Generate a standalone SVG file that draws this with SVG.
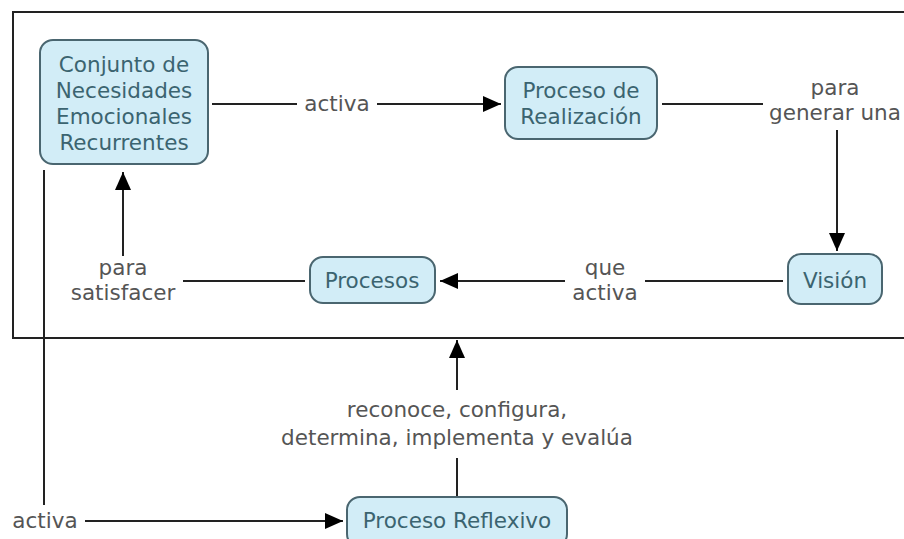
<svg xmlns="http://www.w3.org/2000/svg" width="904" height="539" viewBox="0 0 904 539">
<defs>
<marker id="ah" markerWidth="18" markerHeight="16" refX="18" refY="8" orient="auto" markerUnits="userSpaceOnUse" viewBox="0 0 18 16">
<path d="M0,0 L18,8 L0,16 z" fill="#000"/>
</marker>
</defs>
<style>
.node rect{fill:#d2edf7;stroke:#4a6670;stroke-width:2}
.node text{font-family:"DejaVu Sans",Verdana,sans-serif;font-size:21.5px;fill:#3b6470;text-anchor:middle}
.lbl{font-family:"DejaVu Sans",Verdana,sans-serif;font-size:21.5px;fill:#555;text-anchor:middle}
.ln{stroke:#222;stroke-width:2;fill:none}
.ar{marker-end:url(#ah)}
</style>
<rect x="13" y="12" width="900" height="326" fill="none" stroke="#222" stroke-width="2"/>
<g id="connectors">
<path class="ln" d="M212,104 H297"/>
<text class="lbl" x="337" y="111">activa</text>
<path class="ln ar" d="M377,104 H501"/>
<path class="ln" d="M662,104 H763"/>
<text class="lbl" x="835" y="95">para</text>
<text class="lbl" x="835" y="120">generar una</text>
<path class="ln ar" d="M837,130 V251"/>
<path class="ln" d="M783,281 H645"/>
<text class="lbl" x="605" y="275">que</text>
<text class="lbl" x="605" y="300">activa</text>
<path class="ln ar" d="M565,281 H440"/>
<path class="ln" d="M305,281 H183"/>
<text class="lbl" x="123" y="275">para</text>
<text class="lbl" x="123" y="300">satisfacer</text>
<path class="ln ar" d="M123,256 V172"/>
<path class="ln" d="M44,170 V505"/>
<text class="lbl" x="45" y="528">activa</text>
<path class="ln ar" d="M85,521 H343"/>
<path class="ln" d="M457,497 V458"/>
<text class="lbl" x="457" y="417">reconoce, configura,</text>
<text class="lbl" x="457" y="445">determina, implementa y evalúa</text>
<path class="ln ar" d="M457,390 V340"/>
</g>
<g id="n1" class="node">
<rect x="40" y="40" width="168" height="124" rx="13"/>
<text x="124" y="72">Conjunto de</text>
<text x="124" y="98">Necesidades</text>
<text x="124" y="124">Emocionales</text>
<text x="124" y="150">Recurrentes</text>
</g>
<g id="n2" class="node">
<rect x="505" y="67" width="152" height="72" rx="13"/>
<text x="581" y="98">Proceso de</text>
<text x="581" y="124">Realización</text>
</g>
<g id="n3" class="node">
<rect x="788" y="254" width="94" height="50" rx="13"/>
<text x="835" y="288">Visión</text>
</g>
<g id="n4" class="node">
<rect x="310" y="257" width="125" height="46" rx="13"/>
<text x="372" y="288">Procesos</text>
</g>
<g id="n5" class="node">
<rect x="347" y="497" width="220" height="50" rx="13"/>
<text x="457" y="528">Proceso Reflexivo</text>
</g>
</svg>
